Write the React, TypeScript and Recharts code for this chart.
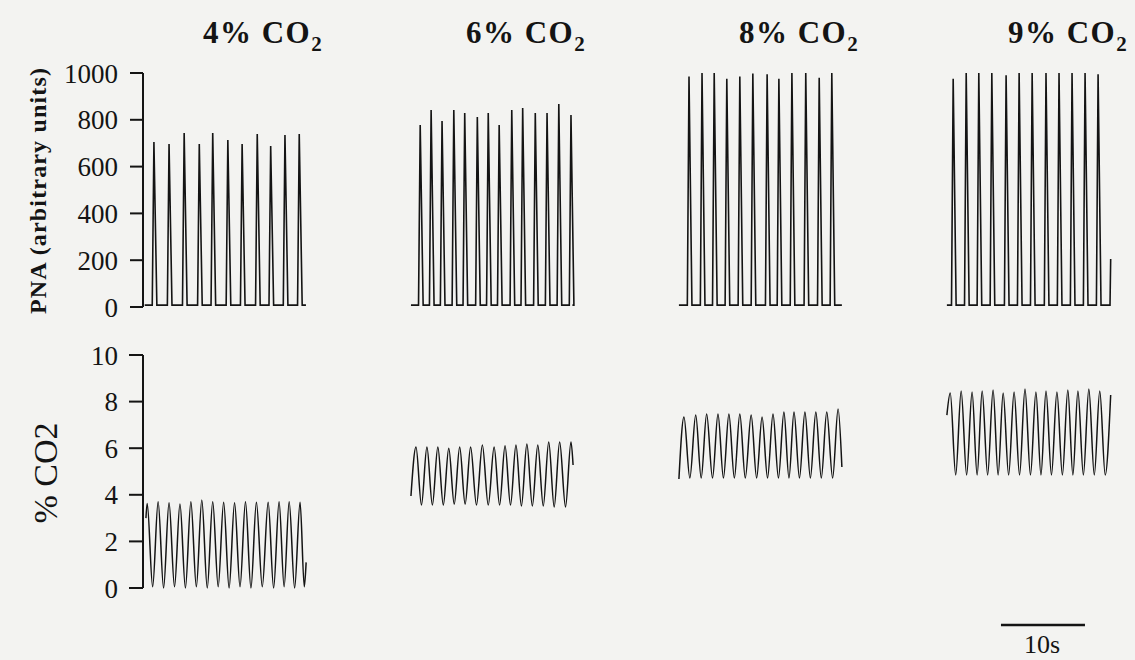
import React from 'react';
import { LineChart, Line, XAxis, YAxis, ReferenceLine } from 'recharts';

// ---------------- data (time in seconds) ----------------
const conditions = ['4% CO', '6% CO', '8% CO', '9% CO'];
const pnaTicks = [0, 200, 400, 600, 800, 1000];
const co2Ticks = [0, 2, 4, 6, 8, 10];

// PNA: recording span [start, end], end value, burst peak times and heights
const pnaSpan4 = [0.2, 19.4];
const pnaEndV4 = 8;
const pnaPeakT4 = [1.3, 3.1, 4.9, 6.7, 8.3, 10.1, 11.8, 13.6, 15.2, 16.9, 18.6];
const pnaPeakV4 = [705, 697, 744, 697, 744, 714, 697, 739, 688, 735, 739];

const pnaSpan6 = [31.9, 51.2];
const pnaEndV6 = 8;
const pnaPeakT6 = [33.0, 34.3, 35.6, 37.0, 38.3, 39.8, 41.1, 42.4, 43.9, 45.2, 46.7, 48.1, 49.5, 50.95];
const pnaPeakV6 = [778, 842, 795, 842, 829, 812, 829, 778, 842, 850, 829, 829, 868, 820];

const pnaSpan8 = [63.8, 83.2];
const pnaEndV8 = 8;
const pnaPeakT8 = [65.0, 66.55, 68.0, 69.5, 71.05, 72.6, 74.3, 75.7, 77.25, 78.9, 80.5, 82.0];
const pnaPeakV8 = [985, 1000, 1000, 975, 985, 998, 995, 975, 1000, 1000, 980, 1000];

const pnaSpan9 = [95.7, 115.2];
const pnaEndV9 = 205;
const pnaPeakT9 = [96.45, 98.0, 99.5, 101.05, 102.75, 104.3, 105.85, 107.5, 109.05, 110.6, 112.15, 113.7];
const pnaPeakV9 = [975, 1000, 1000, 1000, 990, 1000, 1000, 1000, 1000, 1000, 1000, 995];

const pnaBaseline = 8;

// % CO2: successive turning points (start, peak, trough, ..., end)
const co2T4 = [0.35, 0.5, 1.15, 1.8, 2.45, 3.1, 3.75, 4.4, 5.05, 5.7, 6.35, 7.0, 7.65, 8.3, 8.95, 9.6, 10.25, 10.9, 11.55, 12.2, 12.85, 13.5, 14.2, 14.9, 15.55, 16.2, 16.8, 17.4, 18.05, 18.7, 19.2, 19.42];
const co2V4 = [3.0, 3.63, 0.05, 3.7, 0.0, 3.66, 0.05, 3.61, 0.0, 3.7, 0.05, 3.78, 0.0, 3.7, 0.05, 3.68, 0.0, 3.66, 0.05, 3.7, 0.0, 3.68, 0.05, 3.68, 0.0, 3.7, 0.05, 3.7, 0.0, 3.68, 0.05, 1.1];

const co2T6 = [31.9, 32.5, 33.15, 33.8, 34.45, 35.1, 35.75, 36.4, 37.05, 37.7, 38.35, 39.0, 39.7, 40.4, 41.1, 41.8, 42.45, 43.1, 43.75, 44.4, 45.05, 45.7, 46.35, 47.0, 47.65, 48.3, 48.95, 49.6, 50.3, 50.95, 51.2];
const co2V6 = [3.95, 6.05, 3.56, 6.05, 3.56, 6.05, 3.56, 6.0, 3.6, 6.05, 3.6, 6.05, 3.56, 6.14, 3.56, 6.05, 3.56, 6.1, 3.56, 6.14, 3.52, 6.18, 3.52, 6.14, 3.52, 6.27, 3.48, 6.27, 3.48, 6.27, 5.28];

const co2T8 = [63.8, 64.4, 65.1, 65.8, 66.45, 67.1, 67.8, 68.45, 69.1, 69.75, 70.4, 71.05, 71.7, 72.4, 73.05, 73.7, 74.35, 75.0, 75.65, 76.3, 76.9, 77.5, 78.15, 78.8, 79.45, 80.1, 80.75, 81.4, 82.1, 82.75, 83.2];
const co2V8 = [4.68, 7.34, 4.72, 7.42, 4.72, 7.47, 4.72, 7.47, 4.72, 7.47, 4.72, 7.47, 4.72, 7.42, 4.72, 7.34, 4.72, 7.47, 4.72, 7.55, 4.72, 7.55, 4.72, 7.55, 4.72, 7.55, 4.72, 7.55, 4.72, 7.68, 5.19];

const co2T9 = [95.7, 96.1, 96.75, 97.4, 98.05, 98.7, 99.3, 99.9, 100.55, 101.2, 101.8, 102.4, 103.05, 103.7, 104.35, 105.0, 105.65, 106.3, 106.9, 107.5, 108.15, 108.8, 109.45, 110.1, 110.7, 111.3, 111.95, 112.6, 113.25, 113.9, 114.55, 115.2];
const co2V9 = [7.42, 8.37, 4.85, 8.45, 4.85, 8.41, 4.85, 8.45, 4.85, 8.5, 4.85, 8.37, 4.85, 8.41, 4.85, 8.54, 4.85, 8.41, 4.85, 8.45, 4.85, 8.41, 4.85, 8.5, 4.85, 8.45, 4.85, 8.54, 4.85, 8.45, 4.85, 8.28];

const scaleBarStart = 102.14; // s
const scaleBarLength = 10; // s
const scaleBarLevel = -1.59; // % CO2 units (below the trace)

// ---------------- layout ----------------
const W = 1135;
const H = 660;
const PANEL_H = 330;
const AXIS_X = 143;
const PX_PER_S = 8.4;
const T_MAX = 117;
const RIGHT = W - AXIS_X - T_MAX * PX_PER_S;
const FONT = '"Liberation Serif", "Times New Roman", Times, serif';
const INK = '#141414';
const titleCenters = [263, 526, 799, 1068];

const RISE = 0.2;
const FALL = 0.35;

type Pt = { t: number; v: number };

function buildPna(span: number[], endV: number, peaksT: number[], peaksV: number[]): Pt[] {
  const pts: Pt[] = [{ t: span[0], v: pnaBaseline }];
  peaksT.forEach((p, i) => {
    pts.push({ t: p - RISE, v: pnaBaseline });
    pts.push({ t: p, v: peaksV[i] });
    pts.push({ t: p + FALL, v: pnaBaseline });
  });
  pts.push({ t: span[1] - 0.08, v: pnaBaseline });
  pts.push({ t: span[1], v: endV });
  return pts;
}

function buildCo2(ts: number[], vs: number[]): Pt[] {
  return ts.map((t, i) => ({ t, v: vs[i] }));
}

const pnaSegments = [
  buildPna(pnaSpan4, pnaEndV4, pnaPeakT4, pnaPeakV4),
  buildPna(pnaSpan6, pnaEndV6, pnaPeakT6, pnaPeakV6),
  buildPna(pnaSpan8, pnaEndV8, pnaPeakT8, pnaPeakV8),
  buildPna(pnaSpan9, pnaEndV9, pnaPeakT9, pnaPeakV9),
];

const co2Segments = [
  buildCo2(co2T4, co2V4),
  buildCo2(co2T6, co2V6),
  buildCo2(co2T8, co2V8),
  buildCo2(co2T9, co2V9),
];

const axisStyle = { stroke: INK, strokeWidth: 2 };
const tickStyle = { fill: INK, fontSize: 27, fontFamily: FONT };

export default function App() {
  return (
    <div
      style={{
        position: 'absolute',
        left: 0,
        top: 0,
        width: W,
        height: H,
        background: '#f3f3f1',
        overflow: 'hidden',
        fontFamily: FONT,
      }}
    >
      <div style={{ position: 'absolute', left: 0, top: 0 }}>
        <LineChart width={W} height={PANEL_H} margin={{ top: 73, right: RIGHT, bottom: 23, left: 0 }}>
          <XAxis type="number" dataKey="t" domain={[0, T_MAX]} hide allowDataOverflow />
          <YAxis
            type="number"
            domain={[0, 1000]}
            ticks={pnaTicks}
            interval={0}
            width={AXIS_X}
            tickSize={13}
            tickMargin={12}
            axisLine={axisStyle}
            tickLine={axisStyle}
            tick={tickStyle}
          />
          {pnaSegments.map((seg, i) => (
            <Line
              key={'pna' + i}
              data={seg}
              dataKey="v"
              type="linear"
              stroke={INK}
              strokeWidth={1.6}
              dot={false}
              activeDot={false}
              isAnimationActive={false}
            />
          ))}
        </LineChart>
      </div>
      <div style={{ position: 'absolute', left: 0, top: PANEL_H }}>
        <LineChart width={W} height={PANEL_H} margin={{ top: 25, right: RIGHT, bottom: 72, left: 0 }}>
          <XAxis type="number" dataKey="t" domain={[0, T_MAX]} hide allowDataOverflow />
          <YAxis
            type="number"
            domain={[0, 10]}
            ticks={co2Ticks}
            interval={0}
            width={AXIS_X}
            tickSize={14}
            tickMargin={11}
            axisLine={axisStyle}
            tickLine={axisStyle}
            tick={tickStyle}
          />
          {co2Segments.map((seg, i) => (
            <Line
              key={'co2' + i}
              data={seg}
              dataKey="v"
              type="monotone"
              stroke={INK}
              strokeWidth={1.5}
              dot={false}
              activeDot={false}
              isAnimationActive={false}
            />
          ))}
          <ReferenceLine
            segment={[
              { x: scaleBarStart, y: scaleBarLevel },
              { x: scaleBarStart + scaleBarLength, y: scaleBarLevel },
            ]}
            stroke={INK}
            strokeWidth={2.6}
            ifOverflow="visible"
          />
        </LineChart>
      </div>
      <svg
        width={W}
        height={H}
        style={{ position: 'absolute', left: 0, top: 0, pointerEvents: 'none' }}
      >
        {conditions.map((c, i) => (
          <text
            key={c}
            x={titleCenters[i]}
            y={43}
            textAnchor="middle"
            fontFamily={FONT}
            fontWeight="bold"
            fontSize={31}
            letterSpacing={1.5}
            fill={INK}
          >
            {c}
            <tspan fontSize={21} dy={8}>2</tspan>
          </text>
        ))}
        <text
          transform="translate(46,191) rotate(-90)"
          textAnchor="middle"
          fontFamily={FONT}
          fontWeight="bold"
          fontSize={24}
          textLength={246}
          lengthAdjust="spacing"
          fill={INK}
        >
          PNA (arbitrary units)
        </text>
        <text
          transform="translate(57,473) rotate(-90)"
          textAnchor="middle"
          fontFamily={FONT}
          fontSize={34}
          fill={INK}
        >
          % CO2
        </text>
        <text x={1042} y={653} textAnchor="middle" fontFamily={FONT} fontSize={26} fill={INK}>
          10s
        </text>
      </svg>
    </div>
  );
}
